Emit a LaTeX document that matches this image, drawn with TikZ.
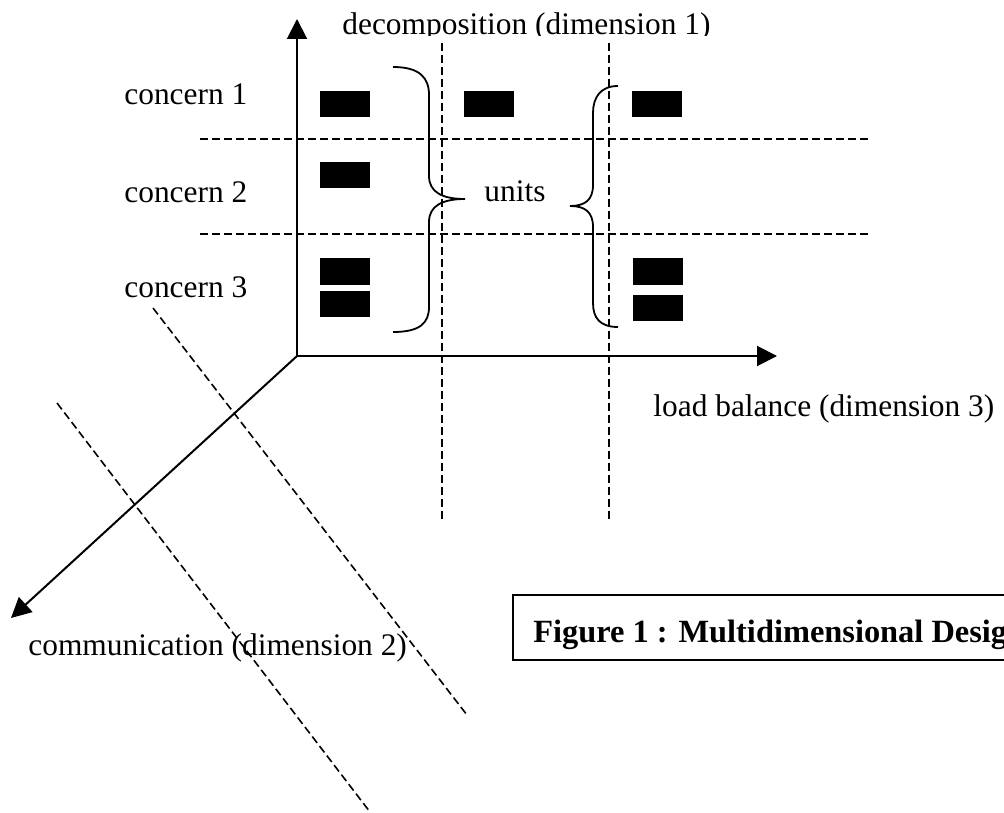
\documentclass[tikz,border=0pt]{standalone}
\usepackage{fontspec}
\setmainfont{Liberation Serif}
\usetikzlibrary{arrows.meta}

\begin{document}
\begin{tikzpicture}[x=0.5pt,y=-0.5pt,
  txt/.style={inner sep=0pt,anchor=base west,font=\fontsize{15.7}{18}\selectfont},
  unit/.style={fill=black,minimum width=25pt,minimum height=13pt,inner sep=0pt},
  axis/.style={line width=1pt,-{Triangle[length=10pt,width=10pt]}},
  grid/.style={line width=0.8pt,dash pattern=on 4pt off 2pt},
  brace/.style={line width=0.9pt}]
\useasboundingbox (0,0) rectangle (1004,812);
\clip (0,0) rectangle (1004,812);

% axes
\coordinate (origin) at (297,356);
\coordinate (dimone) at (297,19);
\coordinate (dimtwo) at (11,618);
\coordinate (dimthree) at (777,356);
\draw[axis] (origin) -- (dimone);
\draw[axis] (origin) -- (dimtwo);
\draw[axis] (origin) -- (dimthree);

% dashed grid
\draw[grid] (200,139) -- (868,139); % concern 1 / 2
\draw[grid] (200,234) -- (868,234); % concern 2 / 3
\draw[grid] (442,43) -- (442,522);
\draw[grid] (609,43) -- (609,522);
\draw[grid] (153,308) -- (467,715); % communication planes
\draw[grid] (57,403) -- (370,812);

% units
\node[unit] (u11) at (345,104) {};
\node[unit] (u12) at (489,104) {};
\node[unit] (u13) at (657,104) {};
\node[unit] (u21) at (345,175.5) {};
\node[unit] (u31) at (345,271.5) {};
\node[unit] (u32) at (345,303.5) {};
\node[unit] (u33) at (658,271.5) {};
\node[unit] (u34) at (658,307.5) {};

% braces
\draw[brace] (393,67) .. controls (420,67) and (429,78) .. (429,95) -- (429,176)
  .. controls (429,192) and (442,199) .. (465,199)
  .. controls (442,199) and (429,206) .. (429,222) -- (429,307)
  .. controls (429,323) and (420,332) .. (393,332);
\draw[brace] (618,86) .. controls (600,86) and (593,98) .. (593,113) -- (593,185)
  .. controls (593,200) and (585,206) .. (570,206)
  .. controls (585,206) and (593,212) .. (593,227) -- (593,303)
  .. controls (593,318) and (600,327) .. (618,327);

% labels
\node[txt] (c1) at (124,105) {concern 1};
\node[txt] (c2) at (124,203) {concern 2};
\node[txt] (c3) at (124,297) {concern 3};
\node[txt,anchor=base] (units) at (515,202) {units};
\begin{scope}
\clip (300,0) rectangle (760,36);
\node[txt] (decomp) at (342,35) {decomposition (dimension 1)};
\end{scope}
\node[txt] (load) at (653,416) {load balance (dimension 3)};
\node[txt] (comm) at (28,655) {communication (dimension 2)};

% caption box
\draw[line width=1pt] (1010,595) -- (513,595) -- (513,660) -- (1010,660);
\node[txt,font=\fontsize{16.2}{18}\selectfont\bfseries] (caption) at (533,642) {Figure 1 : Multidimensional Design};
\end{tikzpicture}
\end{document}
